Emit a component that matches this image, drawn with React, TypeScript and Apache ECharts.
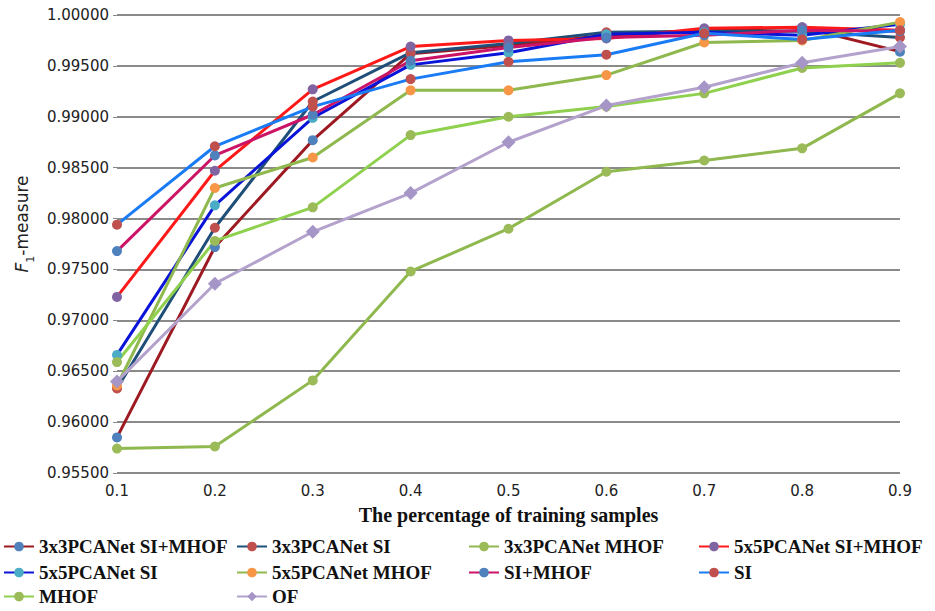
import React, { useEffect, useRef } from "react";
import * as echarts from "echarts";

const categories = ["0.1", "0.2", "0.3", "0.4", "0.5", "0.6", "0.7", "0.8", "0.9"];

const names = [
  "3x3PCANet SI+MHOF",
  "3x3PCANet SI",
  "3x3PCANet MHOF",
  "5x5PCANet SI+MHOF",
  "5x5PCANet SI",
  "5x5PCANet MHOF",
  "SI+MHOF",
  "SI",
  "MHOF",
  "OF",
];

const s3x3SiMhof = [0.9585, 0.9772, 0.9877, 0.9962, 0.9970, 0.9980, 0.9985, 0.9988, 0.9964];
const s3x3Si = [0.9633, 0.9791, 0.9915, 0.9963, 0.9972, 0.9983, 0.9984, 0.9984, 0.9978];
const s3x3Mhof = [0.9574, 0.9576, 0.9641, 0.9748, 0.9790, 0.9846, 0.9857, 0.9869, 0.9923];
const s5x5SiMhof = [0.9723, 0.9847, 0.9927, 0.9969, 0.9975, 0.9977, 0.9987, 0.9988, 0.9985];
const s5x5Si = [0.9666, 0.9813, 0.9899, 0.9951, 0.9963, 0.9981, 0.9983, 0.9980, 0.9991];
const s5x5Mhof = [0.9636, 0.9830, 0.9860, 0.9926, 0.9926, 0.9941, 0.9973, 0.9975, 0.9993];
const siMhof = [0.9768, 0.9862, 0.9902, 0.9955, 0.9968, 0.9978, 0.9980, 0.9985, 0.9984];
const si = [0.9794, 0.9871, 0.9910, 0.9937, 0.9954, 0.9961, 0.9982, 0.9976, 0.9985];
const mhof = [0.9659, 0.9778, 0.9811, 0.9882, 0.9900, 0.9910, 0.9923, 0.9948, 0.9953];
const of = [0.9640, 0.9736, 0.9787, 0.9825, 0.9875, 0.9911, 0.9929, 0.9953, 0.9969];

const seriesData = [s3x3SiMhof, s3x3Si, s3x3Mhof, s5x5SiMhof, s5x5Si, s5x5Mhof, siMhof, si, mhof, of];

const lineColors = ["#9e1a22", "#1f4e79", "#8fb84e", "#ff1a1a", "#0a14d8", "#8fb84e", "#cc1466", "#1a7cf5", "#8fd14f", "#b3a2cc"];
const markerColors = ["#4f81bd", "#c0504d", "#9bbb59", "#8064a2", "#4bacc6", "#f79646", "#4f81bd", "#c0504d", "#9bbb59", "#a596c7"];

const yTicks = { min: 0.955, max: 1.0, interval: 0.005 };

export default function App() {
  const ref = useRef<HTMLDivElement>(null);
  useEffect(() => {
    if (!ref.current) return;
    const chart = echarts.init(ref.current, null, { renderer: "svg" });
    const legendText = {
      fontFamily: "Liberation Serif",
      fontWeight: "bold" as const,
      fontSize: 19,
      color: "#111",
    };
    const rowTops = [537, 563, 587];
    const colLefts = [3, 236, 468, 698];
    const legends = names.map((name, i) => ({
      show: true,
      orient: "horizontal" as const,
      left: colLefts[i % 4],
      top: rowTops[Math.floor(i / 4)],
      itemGap: 0,
      itemWidth: 30,
      itemHeight: 12,
      padding: 0,
      textStyle: legendText,
      data: [name],
    }));
    chart.setOption({
      animation: false,
      backgroundColor: "#ffffff",
      grid: { left: 117, right: 35, top: 15, bottom: 138, containLabel: false },
      legend: legends,
      xAxis: {
        type: "category",
        boundaryGap: false,
        data: categories,
        name: "The percentage of training samples",
        nameLocation: "middle",
        nameGap: 32,
        nameTextStyle: { fontFamily: "Liberation Serif", fontWeight: "bold", fontSize: 20, color: "#111" },
        axisLine: { show: false },
        axisTick: { show: false },
        axisLabel: { fontFamily: "DejaVu Sans", fontSize: 15, color: "#222", margin: 10 },
        splitLine: { show: false },
      },
      yAxis: {
        type: "value",
        min: yTicks.min,
        max: yTicks.max,
        interval: yTicks.interval,
        name: "{i|F}{s|1}{n|-measure}",
        nameLocation: "middle",
        nameGap: 78,
        nameRotate: 90,
        nameTextStyle: {
          padding: [0, 0, 0, 40],
          rich: {
            i: { fontFamily: "DejaVu Sans", fontStyle: "italic", fontSize: 17, color: "#222", verticalAlign: "bottom", lineHeight: 24 },
            s: { fontFamily: "DejaVu Sans", fontSize: 11, color: "#222", verticalAlign: "bottom", lineHeight: 12, padding: [0, 0, -6, 0] },
            n: { fontFamily: "DejaVu Sans", fontSize: 17, color: "#222", verticalAlign: "bottom", lineHeight: 24 },
          },
        },
        axisLine: { show: false },
        axisTick: { show: true, length: 4, lineStyle: { color: "#888" } },
        axisLabel: {
          fontFamily: "DejaVu Sans",
          fontSize: 15,
          color: "#222",
          margin: 8,
          formatter: (v: number) => v.toFixed(5),
        },
        splitLine: { show: true, lineStyle: { color: "#8a8a8a", width: 2 } },
      },
      series: names.map((name, i) => ({
        name,
        type: "line",
        data: seriesData[i],
        symbol: name === "OF" ? "diamond" : "circle",
        symbolSize: name === "OF" ? 14 : 10,
        showSymbol: true,
        lineStyle: { color: lineColors[i], width: 3 },
        itemStyle: { color: markerColors[i] },
        emphasis: { disabled: true },
      })),
    });
    return () => chart.dispose();
  }, []);
  return <div ref={ref} style={{ width: 935, height: 611, position: "absolute", left: 0, top: 0 }} />;
}
